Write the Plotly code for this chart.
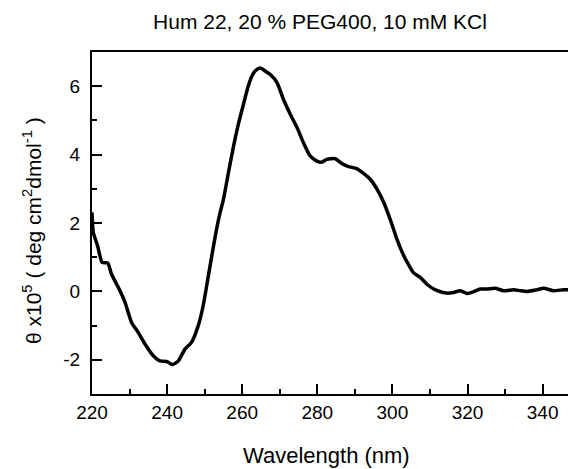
import plotly.graph_objects as go

wavelength = [220.0, 220.35, 221.5, 222.7, 224.2, 225.2, 227.0, 228.8, 230.5, 232.3, 234.1, 236.3,
              238.1, 239.9, 241.4, 243.0, 244.8, 246.5, 248.3, 249.6, 251.0, 252.8, 254.0, 255.0,
              256.3, 257.7, 259.0, 260.4, 261.6, 262.6, 263.5, 264.8, 266.2, 267.5, 269.3, 271.0,
              272.8, 274.6, 276.3, 278.1, 279.9, 281.2, 282.5, 284.8, 286.5, 288.3, 290.5, 292.3,
              294.1, 295.9, 297.7, 299.4, 301.2, 303.0, 304.3, 305.6, 307.4, 309.2, 311.0, 312.8,
              314.5, 316.3, 318.1, 319.9, 321.6, 323.4, 325.2, 327.4, 329.6, 332.3, 334.1, 335.8,
              338.5, 340.3, 342.9, 345.6, 349.0, 350.0]
theta = [2.31, 1.72, 1.33, 0.85, 0.83, 0.50, 0.12, -0.32, -0.90, -1.20, -1.54, -1.88,
         -2.03, -2.05, -2.14, -2.03, -1.68, -1.49, -1.00, -0.42, 0.46, 1.60, 2.25, 2.69,
         3.45, 4.25, 4.90, 5.50, 6.00, 6.30, 6.45, 6.53, 6.44, 6.34, 6.10, 5.61,
         5.18, 4.79, 4.35, 3.96, 3.81, 3.78, 3.86, 3.88, 3.74, 3.65, 3.59, 3.45,
         3.28, 2.99, 2.60, 2.11, 1.53, 1.05, 0.78, 0.55, 0.41, 0.21, 0.07, -0.01,
         -0.05, -0.03, 0.02, -0.06, -0.01, 0.07, 0.07, 0.09, 0.02, 0.05, 0.02, 0.00,
         0.05, 0.09, 0.02, 0.05, 0.05, 0.05]

x_ticks = [220, 240, 260, 280, 300, 320, 340]
x_ticktext = ["220", "240", "260", "280", "300", "320", "340"]
y_ticks = [-2, 0, 2, 4, 6]
y_ticktext = ["-2", "0", "2", "4", "6"]

FONT = "Liberation Sans, Arial, sans-serif"

# page has an 8px body margin; figure is sized to fill the remaining window
W, H = 568, 461
L, T, B, R = 84, 44, 75, 0
PW, PH = W - L - R, H - T - B

fig = go.Figure()
fig.add_trace(go.Scatter(x=wavelength, y=theta, mode="lines",
                         line=dict(color="black", width=3.5, shape="spline", smoothing=0.6),
                         showlegend=False, hoverinfo="skip"))

axis_common = dict(showgrid=False, zeroline=False, showline=True, linecolor="black", linewidth=2,
                   ticks="inside", ticklen=10, tickwidth=1.6, tickcolor="black",
                   tickfont=dict(family=FONT, size=19, color="black"))

fig.update_layout(
    width=W, height=H,
    margin=dict(l=L, r=R, t=T, b=B),
    paper_bgcolor="white", plot_bgcolor="white",
    title=dict(text="Hum 22, 20 % PEG400, 10 mM KCl", x=312 / W, xanchor="center",
               y=1 - 14 / H, yanchor="middle",
               font=dict(family=FONT, size=21, color="black")),
    xaxis=dict(range=[220, 220 + PW / 3.755], tickvals=x_ticks, ticktext=x_ticktext, mirror=True,
               minor=dict(dtick=10, tick0=220, ticks="inside", ticklen=5, tickwidth=1.6, tickcolor="black"),
               **axis_common),
    yaxis=dict(range=[-3, 7], tickvals=y_ticks, ticktext=y_ticktext, mirror=False,
               ticklabelstandoff=6,
               minor=dict(dtick=1, tick0=-3, ticks="inside", ticklen=5, tickwidth=1.6, tickcolor="black"),
               **axis_common),
    annotations=[
        dict(text="θ x10<sup>5</sup> ( deg cm<sup>2</sup>dmol<sup>-1</sup> )",
             xref="paper", yref="paper", x=(24 - L) / PW, y=(T + PH - 223) / PH,
             xanchor="center", yanchor="middle", textangle=-90, showarrow=False,
             font=dict(family=FONT, size=21, color="black")),
        dict(text="Wavelength (nm)",
             xref="paper", yref="paper", x=(318 - L) / PW, y=(T + PH - 447) / PH,
             xanchor="center", yanchor="middle", showarrow=False,
             font=dict(family=FONT, size=22, color="black")),
    ],
)

fig.write_html("out.html")
